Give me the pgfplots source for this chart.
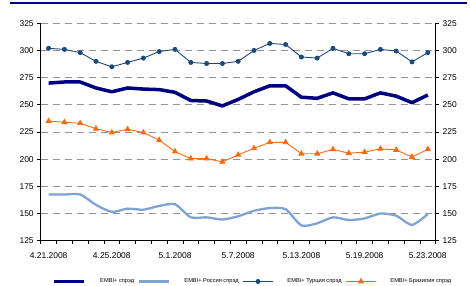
\documentclass[border=0pt]{standalone}
\usepackage{pgfplots}
\pgfplotsset{compat=1.18}
\usepackage{fontspec}
\setmainfont{Liberation Sans}
\definecolor{embi}{HTML}{000080}
\definecolor{rus}{HTML}{7FA3D3}
\definecolor{tur}{HTML}{1B4A7A}
\definecolor{bra}{HTML}{FF6A0F}
\begin{document}
\begin{tikzpicture}
\path[use as bounding box] (-40.7bp,-45.3bp) rectangle (429.3bp,240.7bp);
\draw[embi, line width=2bp] (-30.7bp,237.7bp) -- (426bp,237.7bp);
\begin{axis}[name=ax, at={(0,0)}, anchor=south west, scale only axis,
  width=395bp, height=217.4bp,
  xmin=-0.5, xmax=24.5, ymin=125, ymax=325,
  axis x line*=bottom, axis y line*=left,
  axis line style={black, line width=0.8bp},
  ytick={125,150,...,325},
  ymajorgrids, grid style={gray!85, dash pattern=on 7bp off 5bp, line width=0.7bp},
  tick align=outside, major tick length=3.5bp,
  tick style={black, line width=0.7bp},
  xtick={-0.5,0.5,...,24.5}, xticklabel=\empty,
  extra x ticks={0,4,...,24},
  extra x tick labels={4.21.2008,4.25.2008,5.1.2008,5.7.2008,5.13.2008,5.19.2008,5.23.2008},
  extra x tick style={major tick length=0pt, grid=none},
  xticklabel style={yshift=-8bp},
  tick label style={font=\fontsize{8.5}{9}\selectfont},
  /pgf/number format/assume math mode=true,
  legend columns=4,
  legend style={draw=none, fill=none, at={(0.03,-0.165)}, anchor=north west,
    font=\fontsize{5.7}{6}\selectfont, inner sep=0pt,
    /tikz/every even column/.append style={column sep=2bp},
    /tikz/every odd column/.append style={column sep=12bp}},
  legend cell align=left,
  legend image code/.code={\draw[mark repeat=2,mark phase=2,#1] plot coordinates {(0bp,0bp) (15bp,0bp) (30bp,0bp)};},
]
\addplot[embi, line width=3.5bp, line join=round] coordinates {
(0,270) (1,271) (2,271) (3,265.5) (4,262) (5,265.5) (6,264.5) (7,264) (8,261.5) (9,254)
(10,253.5) (11,249) (12,255) (13,262) (14,267.5) (15,267.5) (16,257) (17,256) (18,261)
(19,255.5) (20,255.5) (21,261) (22,258) (23,252) (24,259)};
\addlegendentry{EMBI+ спрэд}
\addplot[rus, line width=2.3bp, smooth, tension=0.4] coordinates {
(0,167.5) (1,167.5) (2,167.5) (3,158) (4,151.5) (5,154.5) (6,153.5) (7,157) (8,158.5) (9,146.5)
(10,146.5) (11,144.5) (12,147.5) (13,152.5) (14,155) (15,154) (16,139) (17,141) (18,146.5)
(19,144) (20,145.5) (21,150) (22,148) (23,139.5) (24,149.5)};
\addlegendentry{EMBI+ Россия спрэд}
\addplot[tur, line width=0.9bp, mark=*, mark size=2bp] coordinates {
(0,302) (1,301) (2,298) (3,290) (4,285) (5,289) (6,293) (7,299) (8,301) (9,289)
(10,288) (11,288) (12,290) (13,300) (14,306.5) (15,305.5) (16,294) (17,293) (18,302)
(19,297) (20,297) (21,301) (22,299.5) (23,289.5) (24,298)};
\addlegendentry{EMBI+ Турция спрэд}
\addplot[bra, line width=0.9bp, mark=triangle*, mark size=2.8bp] coordinates {
(0,235) (1,234) (2,233) (3,228) (4,224.5) (5,227.5) (6,224.5) (7,217.5) (8,207) (9,200.5)
(10,200.5) (11,197.5) (12,204) (13,210) (14,215.5) (15,215.5) (16,205) (17,205) (18,209)
(19,205.5) (20,206.5) (21,209.5) (22,208.5) (23,202) (24,209)};
\addlegendentry{EMBI+ Бразилия спрэд}
\end{axis}
\begin{axis}[at={(0,0)}, anchor=south west, scale only axis,
  width=395bp, height=217.4bp,
  xmin=-0.5, xmax=24.5, ymin=125, ymax=325,
  axis x line=none, axis y line*=right,
  axis line style={black, line width=0.8bp},
  ytick={125,150,...,325},
  tick align=outside, major tick length=3.5bp,
  tick style={black, line width=0.7bp},
  tick label style={font=\fontsize{8.5}{9}\selectfont},
  /pgf/number format/assume math mode=true,
]
\addplot[draw=none] coordinates {(0,200)};
\end{axis}
\end{tikzpicture}
\end{document}
